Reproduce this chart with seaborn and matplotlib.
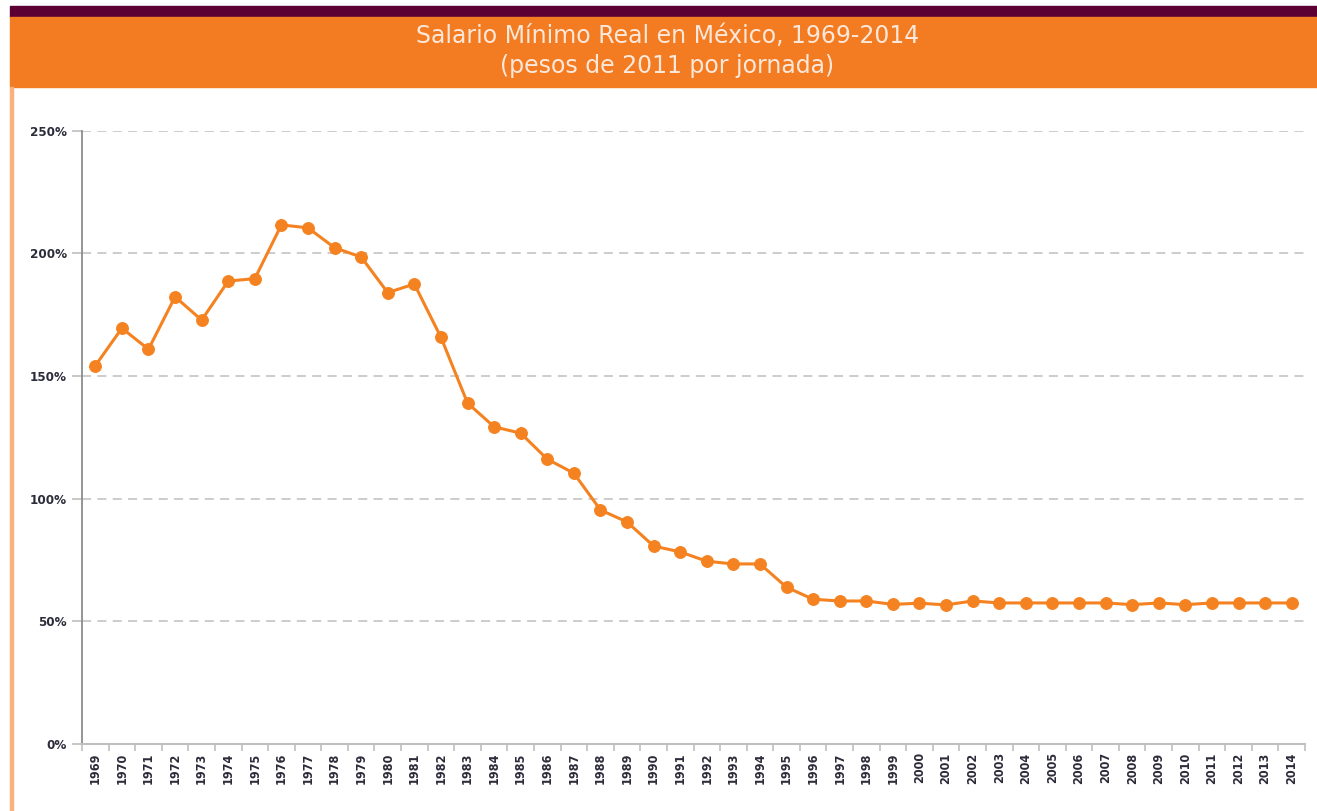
import matplotlib
matplotlib.use("Agg")
import matplotlib.pyplot as plt
import matplotlib.patches as mpatches
from matplotlib.ticker import FuncFormatter, FixedLocator
import pandas as pd
import seaborn as sns

# Data (index, % of 2011 base)
years = [str(y) for y in range(1969, 2015)]
salario = [154.2, 169.5, 160.9, 182.3, 172.8, 188.7, 189.7, 211.6, 210.4, 202.3,
           198.5, 184.0, 187.5, 165.8, 139.0, 129.3, 126.7, 116.1, 110.4, 95.4,
           90.5, 80.7, 78.3, 74.5, 73.4, 73.4, 63.9, 59.0, 58.3, 58.3,
           56.9, 57.4, 56.7, 58.3, 57.5, 57.5, 57.5, 57.5, 57.5, 56.8,
           57.5, 56.8, 57.5, 57.5, 57.5, 57.5]
y_ticks = [0, 50, 100, 150, 200, 250]
titulo = "Salario Mínimo Real en México, 1969-2014"
subtitulo = "(pesos de 2011 por jornada)"

df = pd.DataFrame({"anio": years, "valor": salario})

sns.set_style("white")
plt.rcParams['font.family'] = ['DejaVu Sans']

W, H = 1317, 811
fig = plt.figure(figsize=(W / 100, H / 100), dpi=100)

orange = "#F37B21"
purple = "#5C0033"

# header bands and left border
fig.patches.append(mpatches.Rectangle((10 / W, 1 - 17 / H), 1 - 10 / W, 11 / H,
                                      transform=fig.transFigure, color=purple, zorder=0))
fig.patches.append(mpatches.Rectangle((10 / W, 1 - 87 / H), 1 - 10 / W, 70 / H,
                                      transform=fig.transFigure, color=orange, zorder=0))
fig.patches.append(mpatches.Rectangle((10 / W, 0), 2.5 / W, 1 - 87 / H,
                                      transform=fig.transFigure, color="#F9B27C", zorder=0))

fig.text(0.5067, 1 - 36 / H, titulo, ha="center", va="center",
         color="#FCE8DA", fontsize=17)
fig.text(0.5067, 1 - 65.5 / H, subtitulo, ha="center", va="center",
         color="#FCE8DA", fontsize=17)

ax = fig.add_axes([82 / W, 1 - 744 / H, 1223 / W, (744 - 130.7) / H])

sns.lineplot(data=df, x="anio", y="valor", ax=ax, color="#F58220",
             linewidth=2.2, marker="o", markersize=8.5,
             markeredgecolor="#F58220", sort=False)

ax.set_xlim(-0.5, len(years) - 0.5)
ax.set_ylim(0, 250)
ax.set_xlabel("")
ax.set_ylabel("")

# y axis
ax.yaxis.set_major_locator(FixedLocator(y_ticks))
ax.yaxis.set_major_formatter(FuncFormatter(lambda v, p: f"{v:.0f}%"))
for v in y_ticks[1:]:
    ax.axhline(v, color="#C8C8C8", linestyle=(0, (5, 3.5)), linewidth=1.3, zorder=0)
ax.tick_params(axis="y", which="major", length=7, width=1.2, color="#BFBFBF",
               direction="out", left=True, labelsize=9.5, labelcolor="#2B2B3A", pad=4)
for lab in ax.get_yticklabels():
    lab.set_fontweight("bold")
    lab.set_fontstretch("condensed")

# x axis: labels at centres, ticks at category boundaries
ax.set_xticks(range(len(years)))
ax.set_xticklabels(years, rotation=90, fontsize=9, fontweight="bold",
                   fontstretch="condensed", color="#2B2B3A")
ax.tick_params(axis="x", which="major", length=0, pad=6)
ax.set_xticks([i - 0.5 for i in range(len(years) + 1)], minor=True)
ax.tick_params(axis="x", which="minor", length=5, width=1.2, color="#BFBFBF",
               direction="out", bottom=True)

for side in ["top", "right"]:
    ax.spines[side].set_visible(False)
ax.spines["left"].set_color("#8C8C8C")
ax.spines["left"].set_linewidth(1.3)
ax.spines["bottom"].set_color("#BFBFBF")
ax.spines["bottom"].set_linewidth(1.5)

plt.savefig("out.png", dpi=100)
